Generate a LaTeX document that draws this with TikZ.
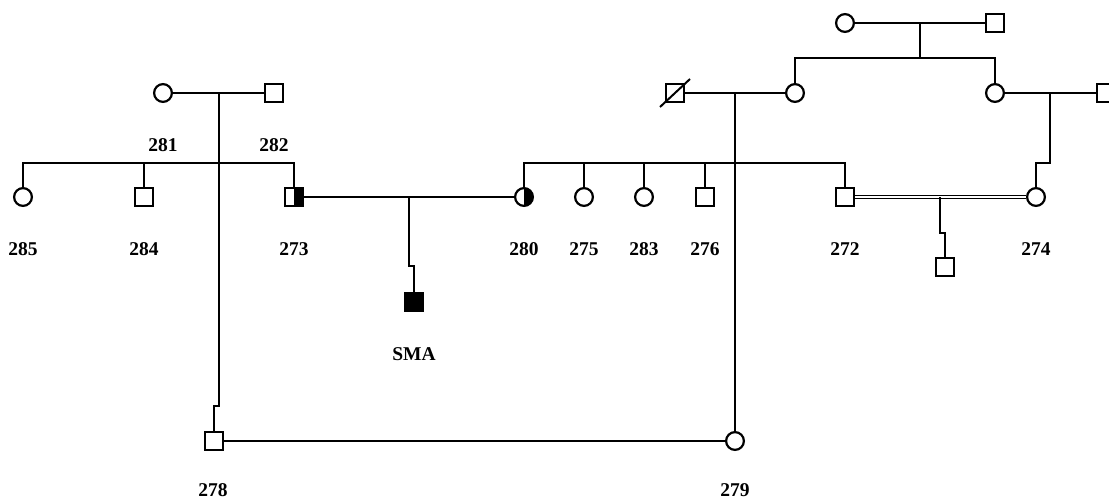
\documentclass[tikz,border=0pt]{standalone}
\usepackage{fontspec}
\setmainfont{Liberation Serif}
\begin{document}
\begin{tikzpicture}[x=1pt,y=-1pt,
  person/.style={draw, line width=2.2pt, minimum size=17.8pt, inner sep=0pt},
  male/.style={person, rectangle},
  female/.style={person, circle},
  lbl/.style={font=\fontsize{19.5}{22}\selectfont\bfseries, inner sep=0pt},
  ln/.style={line width=2pt},
  halfR/.style={path picture={\fill (path picture bounding box.north) rectangle (path picture bounding box.south east);}}
]
\useasboundingbox (0,0) rectangle (1109,501);
% individuals
\node[female] (p281) at (163,93) {};
\node[male] (p282) at (274,93) {};
\node[female] (p285) at (23,197) {};
\node[male] (p284) at (144,197) {};
\node[male, halfR] (p273) at (294,197) {};
\node[female, halfR] (p280) at (524,197) {};
\node[male, fill=black] (sma) at (414,302) {};
\node[female] (p275) at (584,197) {};
\node[female] (p283) at (644,197) {};
\node[male] (p276) at (705,197) {};
\node[male] (p272) at (845,197) {};
\node[female] (p274) at (1036,197) {};
\node[male] (g) at (945,267) {};
\node[male] (e) at (675,93) {};
\node[female] (c) at (795,93) {};
\node[female] (a) at (845,23) {};
\node[male] (b) at (995,23) {};
\node[female] (d) at (995,93) {};
\node[male] (f) at (1106,93) {};
\node[male] (p278) at (214,441) {};
\node[female] (p279) at (735,441) {};
% labels
\node[lbl] (l281) at (163,145) {281};
\node[lbl] (l282) at (274,145) {282};
\node[lbl] (l285) at (23,249) {285};
\node[lbl] (l284) at (144,249) {284};
\node[lbl] (l273) at (294,249) {273};
\node[lbl] (l280) at (524,249) {280};
\node[lbl] (l275) at (584,249) {275};
\node[lbl] (l283) at (644,249) {283};
\node[lbl] (l276) at (705,249) {276};
\node[lbl] (l272) at (845,249) {272};
\node[lbl] (l274) at (1036,249) {274};
\node[lbl] (lsma) at (414,354) {SMA};
\node[lbl] (l278) at (213,490) {278};
\node[lbl] (l279) at (735,490) {279};
% deceased slash
\draw[line width=2pt] ([shift={(-15,14)}]e.center) -- ([shift={(15,-14)}]e.center);
% family 281 x 282
\draw[ln] (p281) -- (p282);
\coordinate (m1) at (219,93);
\coordinate (j1) at (219,406);
\draw[ln] (m1) -- (j1) -| (p278.north);
\coordinate (s1) at (219,163);
\draw[ln] (p285.north) |- (s1) -| (p273.north);
\draw[ln] (p284.north) -- (p284.north |- s1);
% 273 x 280
\draw[ln] (p273) -- (p280);
\coordinate (m2) at (409,197);
\coordinate (j2) at (409,266);
\draw[ln] (m2) -- (j2) -| (sma.north);
% top couple
\draw[ln] (a) -- (b);
\coordinate (m3) at (920,23);
\coordinate (s3) at (920,58);
\draw[ln] (m3) -- (s3);
\draw[ln] (c.north) |- (s3) -| (d.north);
% e x c
\draw[ln] (e) -- (c);
\coordinate (m4) at (735,93);
\draw[ln] (m4) -- (p279.north);
\coordinate (s4) at (735,163);
\draw[ln] (p280.north) |- (s4) -| (p272.north);
\draw[ln] (p275.north) -- (p275.north |- s4);
\draw[ln] (p283.north) -- (p283.north |- s4);
\draw[ln] (p276.north) -- (p276.north |- s4);
% d x f
\draw[ln] (d) -- (f);
\coordinate (m5) at (1050,93);
\coordinate (j5) at (1050,163);
\draw[ln] (m5) -- (j5) -| (p274.north);
% consanguineous 272 x 274
\draw[double, double distance=2pt, line width=1.1pt] (p272) -- (p274);
\coordinate (m6) at (940,197);
\coordinate (j6) at (940,233);
\draw[ln] (m6) -- (j6) -| (g.north);
% 278 x 279
\draw[line width=1.5pt] (p278) -- (p279);
\end{tikzpicture}
\end{document}
